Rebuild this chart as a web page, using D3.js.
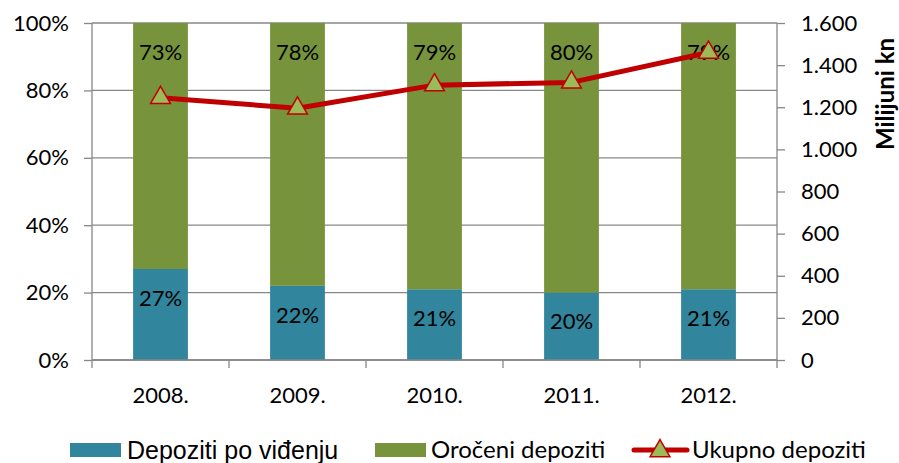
<!DOCTYPE html>
<html>
<head>
<meta charset="utf-8">
<script src="https://cdn.jsdelivr.net/npm/d3@7"></script>
<style>
    body { margin: 0; background: #fff; }
    text { font-family: Lato, "Open Sans", sans-serif; fill: #000; }
</style>
</head>
<body>
<svg id="chart" width="899" height="463"></svg>
<script>
var years = ["2008.", "2009.", "2010.", "2011.", "2012."];
var poVidjenju = [27, 22, 21, 20, 21];
var oroceni = [73, 78, 79, 80, 79];
var ukupno = [1245, 1195, 1305, 1318, 1460];
var leftTicks = [0, 20, 40, 60, 80, 100];
var rightTicks = [0, 200, 400, 600, 800, 1000, 1200, 1400, 1600];

var cfg = {
    left: 92, right: 777, top: 23, bottom: 360,
    blue: "#31859C", green: "#77933C", red: "#C00000", tri: "#9BBB59",
    grid: "#878787", fontSize: 22
};

var svg = d3.select("#chart");

var x = d3.scaleBand().domain(years).range([cfg.left, cfg.right]).paddingInner(0).paddingOuter(0);
var yL = d3.scaleLinear().domain([0, 100]).range([cfg.bottom, cfg.top]);
var yR = d3.scaleLinear().domain([0, 1600]).range([cfg.bottom, cfg.top]);
var barW = x.bandwidth() * 0.4;

// gridlines
svg.append("g").selectAll("line").data(leftTicks).join("line")
    .attr("x1", cfg.left).attr("x2", cfg.right)
    .attr("y1", d => yL(d)).attr("y2", d => yL(d))
    .attr("stroke", cfg.grid).attr("stroke-width", 1.3);

// stacked bars
var stacks = years.map((y, i) => ({ year: y, segs: [
    { y0: 0, y1: poVidjenju[i], color: cfg.blue },
    { y0: poVidjenju[i], y1: poVidjenju[i] + oroceni[i], color: cfg.green }
]}));

var bars = svg.append("g");
stacks.forEach(s => {
    s.segs.forEach(seg => {
        bars.append("rect")
            .attr("x", x(s.year) + (x.bandwidth() - barW) / 2)
            .attr("y", yL(seg.y1))
            .attr("width", barW)
            .attr("height", yL(seg.y0) - yL(seg.y1))
            .attr("fill", seg.color);
        // label sits inside the top end of each segment
        bars.append("text")
            .attr("x", x(s.year) + x.bandwidth() / 2)
            .attr("y", yL(seg.y1) + 29)
            .attr("dy", "0.35em")
            .attr("text-anchor", "middle")
            .style("font-size", cfg.fontSize + "px")
            .text((seg.y1 - seg.y0) + "%");
    });
});

// axes
var axL = svg.append("g").attr("transform", `translate(${cfg.left},0)`)
    .call(d3.axisLeft(yL).tickValues(leftTicks).tickSize(8).tickPadding(15).tickFormat(d => d + "%"));
var axR = svg.append("g").attr("transform", `translate(${cfg.right},0)`)
    .call(d3.axisRight(yR).tickValues(rightTicks).tickSize(8).tickPadding(16)
        .tickFormat(d => d3.format(",")(d).replace(/,/g, ".")));
var axB = svg.append("g").attr("transform", `translate(0,${cfg.bottom})`)
    .call(d3.axisBottom(x).tickSize(0).tickPadding(27));

// x tick marks sit on category boundaries
axB.selectAll(".bound").data(d3.range(years.length + 1)).join("line")
    .attr("class", "bound")
    .attr("x1", i => cfg.left + i * x.bandwidth()).attr("x2", i => cfg.left + i * x.bandwidth())
    .attr("y1", 0).attr("y2", 8)
    .attr("stroke", cfg.grid).attr("stroke-width", 1.3);

for (let ax of [axL, axR, axB]) {
    ax.selectAll(".domain").attr("stroke", cfg.grid).attr("stroke-width", 1.3);
    ax.selectAll(".tick line").attr("stroke", cfg.grid).attr("stroke-width", 1.3);
    ax.selectAll("text").style("font-size", cfg.fontSize + "px").style("font-family", "Lato, sans-serif").attr("fill", "#000");
}
axB.select(".domain").attr("d", `M${cfg.left},0H${cfg.right}`);
axL.select(".domain").attr("d", `M0,${cfg.top}V${cfg.bottom}`);
axR.select(".domain").attr("d", `M0,${cfg.top}V${cfg.bottom}`);

svg.append("text")
    .attr("transform", "translate(886,94) rotate(-90)")
    .attr("text-anchor", "middle")
    .attr("dy", "0.35em")
    .style("font-size", "24px")
    .style("font-weight", "bold")
    .text("Milijuni kn");

// line series
var pts = years.map((y, i) => [x(y) + x.bandwidth() / 2, yR(ukupno[i])]);
svg.append("path")
    .attr("d", d3.line()(pts))
    .attr("fill", "none")
    .attr("stroke", cfg.red)
    .attr("stroke-width", 5)
    .attr("stroke-linejoin", "round");

var tri = d3.symbol().type(d3.symbolTriangle).size(170);
svg.append("g").selectAll("path").data(pts).join("path")
    .attr("transform", d => `translate(${d[0]},${d[1]})`)
    .attr("d", tri)
    .attr("fill", cfg.tri)
    .attr("stroke", cfg.red)
    .attr("stroke-width", 1.5);

// legend
var legend = svg.append("g");
var legY = 450;
legend.append("rect").attr("x", 70).attr("y", legY - 7).attr("width", 51).attr("height", 14).attr("fill", cfg.blue);
legend.append("text").attr("x", 127).attr("y", legY).attr("dy", "0.35em").style("font-size", "25px")
    .style("font-family", "'Liberation Sans', Arial, sans-serif").text("Depoziti po viđenju");
legend.append("rect").attr("x", 375).attr("y", legY - 7).attr("width", 51).attr("height", 14).attr("fill", cfg.green);
legend.append("text").attr("x", 431).attr("y", legY).attr("dy", "0.35em").style("font-size", "24px").text("Oročeni depoziti");
legend.append("line").attr("x1", 634).attr("x2", 687).attr("y1", legY).attr("y2", legY)
    .attr("stroke", cfg.red).attr("stroke-width", 5).attr("stroke-linecap", "round");
legend.append("path").attr("transform", `translate(660,${legY + 1})`).attr("d", tri)
    .attr("fill", cfg.tri).attr("stroke", cfg.red).attr("stroke-width", 1.5);
legend.append("text").attr("x", 692).attr("y", legY).attr("dy", "0.35em").style("font-size", "24px").text("Ukupno depoziti");
</script>
</body>
</html>
